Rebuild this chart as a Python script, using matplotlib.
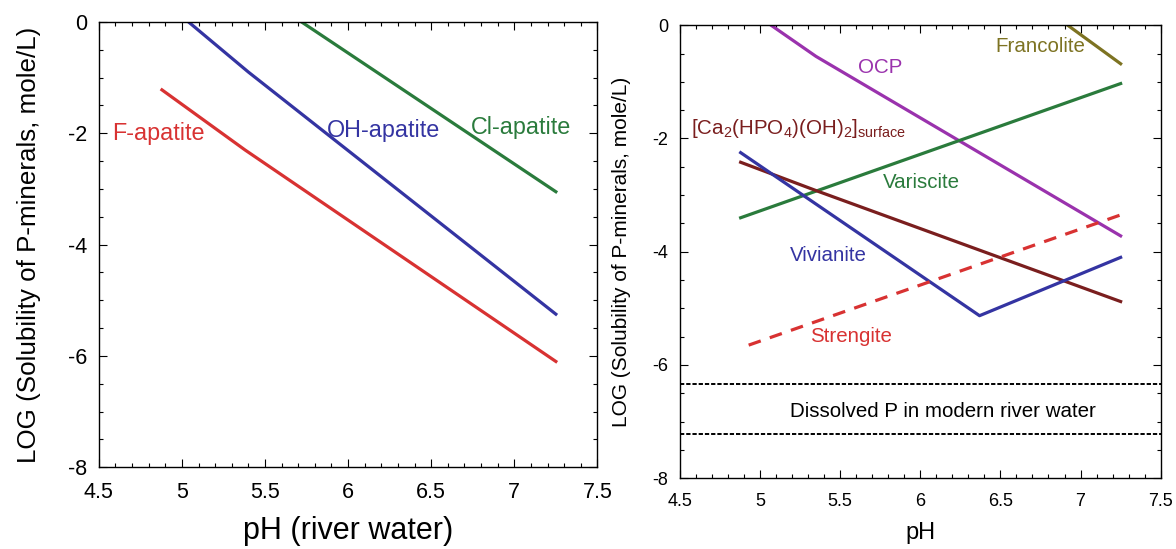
import matplotlib
matplotlib.use("Agg")
import matplotlib.pyplot as plt
from matplotlib.ticker import MultipleLocator

plt.rcParams['font.family'] = ['Liberation Sans', 'DejaVu Sans']
plt.rcParams['mathtext.fontset'] = 'custom'
plt.rcParams['mathtext.rm'] = 'Liberation Sans'
plt.rcParams['mathtext.it'] = 'Liberation Sans'

# left panel: apatites
cl_ph = [5.72, 7.25]
cl_log = [0.0, -3.05]
oh_ph = [5.04, 5.40, 7.25]
oh_log = [0.0, -0.90, -5.25]
f_ph = [4.88, 5.38, 7.25]
f_log = [-1.22, -2.30, -6.10]

# right panel: other P minerals
ocp_ph = [5.07, 5.35, 7.25]
ocp_log = [0.0, -0.55, -3.72]
fran_ph = [6.92, 7.25]
fran_log = [0.0, -0.68]
var_ph = [4.88, 7.25]
var_log = [-3.40, -1.03]
ca_ph = [4.88, 5.35, 7.25]
ca_log = [-2.42, -2.92, -4.88]
viv_ph = [4.88, 6.37, 7.25]
viv_log = [-2.25, -5.13, -4.10]
str_ph = [4.93, 7.25]
str_log = [-5.65, -3.35]
river_p = [-6.34, -7.22]

RED = '#d83232'
BLUE = '#3434a2'
GREEN = '#2a7b3c'
PURPLE = '#9a32ad'
OLIVE = '#7d7322'
BROWN = '#7a1e1e'
LW = 2.3

fig = plt.figure(figsize=(11.76, 5.49), dpi=100)
ax1 = fig.add_axes([0.084, 0.149, 0.424, 0.811])
ax2 = fig.add_axes([0.578, 0.129, 0.409, 0.825])


def style(ax, tsize):
    ax.set_xlim(4.5, 7.5)
    ax.set_ylim(-8, 0)
    ax.set_xticks([4.5, 5, 5.5, 6, 6.5, 7, 7.5])
    ax.set_xticklabels(['4.5', '5', '5.5', '6', '6.5', '7', '7.5'])
    ax.set_yticks([0, -2, -4, -6, -8])
    ax.set_yticklabels(['0', '-2', '-4', '-6', '-8'])
    ax.xaxis.set_minor_locator(MultipleLocator(0.1))
    ax.yaxis.set_minor_locator(MultipleLocator(0.5))
    ax.tick_params(which='both', direction='in', top=True, right=True,
                   labelsize=tsize, width=0.8)
    ax.tick_params(axis='x', which='major', pad=11)
    ax.tick_params(axis='y', which='major', pad=8.5)
    ax.tick_params(which='major', length=6)
    ax.tick_params(which='minor', length=3)
    for s in ax.spines.values():
        s.set_linewidth(1.0)


# left panel
ax1.plot(cl_ph, cl_log, color=GREEN, lw=LW)
ax1.plot(oh_ph, oh_log, color=BLUE, lw=LW)
ax1.plot(f_ph, f_log, color=RED, lw=LW)
ax1.text(4.58, -2.0, 'F-apatite', color=RED, fontsize=16.8, va='center')
ax1.text(5.87, -1.95, 'OH-apatite', color=BLUE, fontsize=16.8, va='center')
ax1.text(6.74, -1.9, 'Cl-apatite', color=GREEN, fontsize=16.8, va='center')
style(ax1, 15.5)
ax1.set_xlabel('pH (river water)', fontsize=22, labelpad=9)
ax1.set_ylabel('LOG (Solubility of P-minerals, mole/L)', fontsize=18.7, labelpad=19)

# right panel
ax2.plot(ocp_ph, ocp_log, color=PURPLE, lw=LW)
ax2.plot(fran_ph, fran_log, color=OLIVE, lw=LW)
ax2.plot(var_ph, var_log, color=GREEN, lw=LW)
ax2.plot(ca_ph, ca_log, color=BROWN, lw=LW)
ax2.plot(viv_ph, viv_log, color=BLUE, lw=LW)
ax2.plot(str_ph, str_log, color=RED, lw=LW, dashes=(4, 3))
for y in river_p:
    ax2.axhline(y, color='black', lw=1.4, dashes=(2.2, 1.0))

ax2.text(5.61, -0.75, 'OCP', color=PURPLE, fontsize=14.8, va='center')
ax2.text(6.47, -0.38, 'Francolite', color=OLIVE, fontsize=14.8, va='center')
ax2.text(4.57, -1.82, r'[Ca$_2$(HPO$_4$)(OH)$_2$]$_{\rm surface}$', color=BROWN,
         fontsize=14.8, va='center')
ax2.text(5.77, -2.78, 'Variscite', color=GREEN, fontsize=14.8, va='center')
ax2.text(5.19, -4.06, 'Vivianite', color=BLUE, fontsize=14.8, va='center')
ax2.text(5.31, -5.49, 'Strengite', color=RED, fontsize=14.8, va='center')
ax2.text(5.19, -6.83, 'Dissolved P in modern river water', color='black',
         fontsize=14.8, va='center')
style(ax2, 13)
ax2.set_xlabel('pH', fontsize=17, labelpad=8)
ax2.set_ylabel('LOG (Solubility of P-minerals, mole/L)', fontsize=15, labelpad=15)

fig.savefig('out.png', dpi=100)
